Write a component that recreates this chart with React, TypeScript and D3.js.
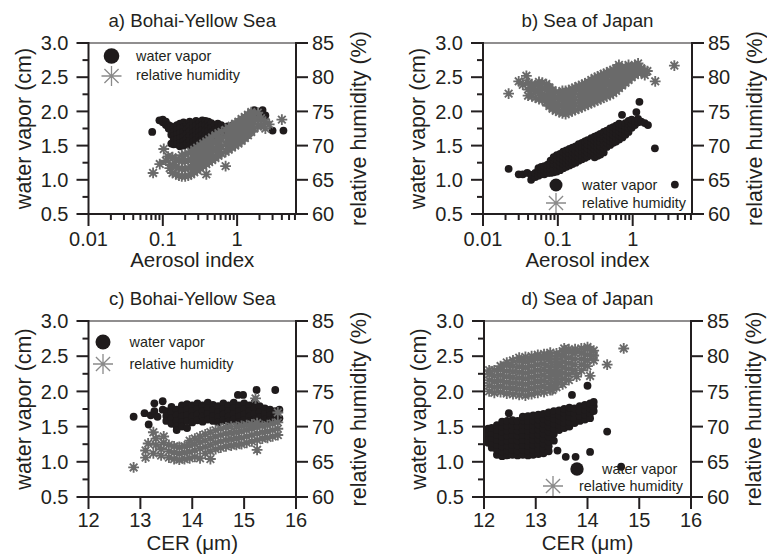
import React from 'react';
import * as d3 from 'd3';

type Pt = [number, number];

// ---------- Panel a: Bohai-Yellow Sea, Aerosol index ----------
const aWV: Pt[] = [
  [0.072,1.70],[0.09,1.87],[0.10,1.88],[0.10,1.84],[0.11,1.85],[0.11,1.80],[0.12,1.80],[0.12,1.75],
  [0.13,1.78],[0.13,1.72],[0.13,1.66],[0.13,1.53],
  [0.14,1.76],[0.14,1.70],[0.14,1.64],[0.14,1.58],[0.14,1.52],
  [0.155,1.80],[0.155,1.73],[0.155,1.66],[0.155,1.59],[0.155,1.52],
  [0.17,1.82],[0.17,1.75],[0.17,1.68],[0.17,1.61],[0.17,1.54],[0.17,1.49],
  [0.19,1.84],[0.19,1.77],[0.19,1.70],[0.19,1.63],[0.19,1.56],[0.19,1.50],
  [0.21,1.81],[0.21,1.74],[0.21,1.67],[0.21,1.60],[0.21,1.53],
  [0.23,1.85],[0.23,1.78],[0.23,1.71],[0.23,1.64],[0.23,1.57],[0.23,1.50],
  [0.255,1.83],[0.255,1.76],[0.255,1.69],[0.255,1.62],[0.255,1.55],
  [0.28,1.86],[0.28,1.79],[0.28,1.72],[0.28,1.65],[0.28,1.58],[0.28,1.52],
  [0.31,1.84],[0.31,1.77],[0.31,1.70],[0.31,1.63],[0.31,1.56],
  [0.34,1.87],[0.34,1.80],[0.34,1.73],[0.34,1.66],[0.34,1.59],
  [0.375,1.86],[0.375,1.79],[0.375,1.72],[0.375,1.65],[0.375,1.58],
  [0.41,1.85],[0.41,1.78],[0.41,1.71],[0.41,1.64],
  [0.45,1.83],[0.45,1.76],[0.45,1.69],[0.45,1.62],
  [0.50,1.80],[0.50,1.73],[0.50,1.66],
  [0.55,1.82],[0.55,1.75],[0.55,1.69],
  [0.61,1.80],[0.61,1.73],[0.67,1.76],[0.67,1.70],[0.74,1.78],[0.74,1.72],[0.82,1.75],
  [0.9,1.81],[0.9,1.74],[1.0,1.79],[1.0,1.73],[1.1,1.82],[1.22,1.84],[1.22,1.78],
  [1.35,1.86],[1.35,1.80],[1.5,1.84],
  [1.7,2.02],[1.7,1.93],[2.2,2.02],[2.4,1.94],[3.0,1.72],[4.2,1.72],
];

const aRH: Pt[] = [
  [0.074,66.0],[0.091,67.3],[0.103,69.5],[0.11,67.8],[0.118,68.4],[0.124,66.7],
  [0.135,66.0],[0.135,67.2],[0.135,68.3],
  [0.15,65.8],[0.15,66.9],[0.15,68.0],
  [0.165,65.6],[0.165,66.7],[0.165,67.8],
  [0.18,65.5],[0.18,66.6],[0.18,67.7],[0.18,68.6],
  [0.20,65.5],[0.20,66.6],[0.20,67.7],[0.20,68.7],
  [0.22,65.6],[0.22,66.7],[0.22,67.8],[0.22,68.9],
  [0.24,65.8],[0.24,66.9],[0.24,68.0],[0.24,69.1],
  [0.265,66.1],[0.265,67.2],[0.265,68.3],[0.265,69.4],
  [0.29,66.4],[0.29,67.5],[0.29,68.6],[0.29,69.7],
  [0.32,66.7],[0.32,67.8],[0.32,68.9],[0.32,70.0],
  [0.35,67.0],[0.35,68.1],[0.35,69.2],[0.35,70.3],
  [0.385,65.8],[0.385,67.3],[0.385,68.4],[0.385,69.5],[0.385,70.6],
  [0.42,67.6],[0.42,68.7],[0.42,69.8],[0.42,70.9],
  [0.46,67.9],[0.46,69.0],[0.46,70.1],[0.46,71.2],
  [0.51,68.2],[0.51,69.3],[0.51,70.4],[0.51,71.5],
  [0.56,68.5],[0.56,69.6],[0.56,70.7],[0.56,71.8],
  [0.62,68.8],[0.62,69.9],[0.62,71.0],[0.62,72.0],
  [0.70,67.0],[0.70,69.1],[0.70,70.2],[0.70,71.3],[0.70,72.3],
  [0.77,69.4],[0.77,70.5],[0.77,71.6],[0.77,72.6],
  [0.85,69.7],[0.85,70.8],[0.85,71.9],[0.85,72.9],
  [0.94,70.0],[0.94,71.1],[0.94,72.2],[0.94,73.2],
  [1.04,70.3],[1.04,71.4],[1.04,72.5],[1.04,73.5],
  [1.15,70.7],[1.15,71.8],[1.15,72.9],[1.15,73.9],
  [1.27,71.1],[1.27,72.2],[1.27,73.3],[1.27,74.2],
  [1.4,71.5],[1.4,72.6],[1.4,73.7],[1.4,74.5],
  [1.55,72.0],[1.55,73.1],[1.55,74.1],[1.55,74.9],
  [1.7,72.5],[1.7,73.5],[1.7,74.5],
  [1.9,72.8],[1.9,73.9],[1.9,74.8],
  [2.1,73.0],[2.1,74.0],[2.4,73.5],[2.4,72.5],[2.7,73.1],[4.0,73.8],
];

// ---------- Panel b: Sea of Japan, Aerosol index ----------
const bWV: Pt[] = [
  [0.022,1.16],[0.030,1.08],[0.034,1.08],[0.039,1.10],[0.044,1.00],[0.044,1.07],
  [0.05,1.04],[0.05,1.10],
  [0.055,1.06],[0.055,1.12],[0.055,1.17],
  [0.06,1.08],[0.06,1.14],[0.06,1.19],
  [0.066,1.08],[0.066,1.14],[0.066,1.20],
  [0.073,1.10],[0.073,1.16],[0.073,1.22],
  [0.08,1.10],[0.08,1.16],[0.08,1.22],[0.08,1.28],
  [0.088,1.11],[0.088,1.17],[0.088,1.23],[0.088,1.29],[0.088,1.33],
  [0.097,1.12],[0.097,1.18],[0.097,1.24],[0.097,1.30],[0.097,1.36],
  [0.107,1.14],[0.107,1.20],[0.107,1.26],[0.107,1.32],[0.107,1.38],
  [0.118,1.17],[0.118,1.23],[0.118,1.29],[0.118,1.35],[0.118,1.41],
  [0.13,1.19],[0.13,1.25],[0.13,1.31],[0.13,1.37],[0.13,1.43],
  [0.143,1.21],[0.143,1.27],[0.143,1.33],[0.143,1.39],[0.143,1.45],
  [0.157,1.23],[0.157,1.29],[0.157,1.35],[0.157,1.41],[0.157,1.47],
  [0.173,1.25],[0.173,1.31],[0.173,1.37],[0.173,1.43],[0.173,1.49],
  [0.19,1.28],[0.19,1.34],[0.19,1.40],[0.19,1.46],[0.19,1.52],
  [0.21,1.30],[0.21,1.36],[0.21,1.42],[0.21,1.48],[0.21,1.54],
  [0.23,1.32],[0.23,1.38],[0.23,1.44],[0.23,1.50],[0.23,1.56],
  [0.25,1.34],[0.25,1.40],[0.25,1.46],[0.25,1.52],[0.25,1.58],
  [0.28,1.37],[0.28,1.43],[0.28,1.49],[0.28,1.55],[0.28,1.61],
  [0.31,1.33],[0.31,1.39],[0.31,1.45],[0.31,1.51],[0.31,1.57],[0.31,1.63],
  [0.34,1.35],[0.34,1.41],[0.34,1.47],[0.34,1.53],[0.34,1.59],[0.34,1.65],
  [0.37,1.37],[0.37,1.43],[0.37,1.49],[0.37,1.55],[0.37,1.61],[0.37,1.67],
  [0.41,1.40],[0.41,1.46],[0.41,1.52],[0.41,1.58],[0.41,1.64],[0.41,1.70],
  [0.45,1.48],[0.45,1.54],[0.45,1.60],[0.45,1.66],[0.45,1.72],
  [0.5,1.51],[0.5,1.57],[0.5,1.63],[0.5,1.69],[0.5,1.75],
  [0.55,1.54],[0.55,1.60],[0.55,1.66],[0.55,1.72],[0.55,1.77],
  [0.6,1.56],[0.6,1.62],[0.6,1.68],[0.6,1.74],[0.6,1.79],
  [0.66,1.59],[0.66,1.65],[0.66,1.71],[0.66,1.77],[0.66,1.82],
  [0.72,1.95],
  [0.73,1.62],[0.73,1.68],[0.73,1.74],[0.73,1.80],
  [0.8,1.66],[0.8,1.72],[0.8,1.78],[0.8,1.83],
  [0.88,1.70],[0.88,1.76],[0.88,1.82],[0.88,1.86],
  [0.97,1.76],[0.97,1.82],[0.97,1.88],
  [1.07,1.80],[1.07,1.86],
  [1.12,1.99],[1.18,1.84],[1.18,1.89],[1.23,2.14],[1.3,1.85],[1.45,1.83],[1.6,1.80],
  [1.98,1.46],[3.66,0.93],
];

const bRH: Pt[] = [
  [0.022,77.6],[0.030,79.4],[0.034,78.9],[0.038,80.2],
  [0.04,77.3],[0.04,78.2],[0.04,79.1],
  [0.045,77.2],[0.045,78.1],[0.045,79.0],
  [0.05,77.0],[0.05,77.9],[0.05,78.8],
  [0.056,76.8],[0.056,77.7],[0.056,78.6],[0.056,79.3],
  [0.062,76.7],[0.062,77.6],[0.062,78.5],[0.062,79.2],
  [0.07,76.3],[0.07,77.2],[0.07,78.1],[0.07,79.0],
  [0.077,75.8],[0.077,76.7],[0.077,77.6],[0.077,78.5],
  [0.085,75.4],[0.085,76.3],[0.085,77.2],[0.085,78.1],
  [0.094,75.1],[0.094,76.0],[0.094,76.9],[0.094,77.8],
  [0.104,74.9],[0.104,75.8],[0.104,76.7],[0.104,77.6],
  [0.115,74.7],[0.115,75.6],[0.115,76.5],[0.115,77.4],[0.115,78.0],
  [0.127,74.6],[0.127,75.5],[0.127,76.4],[0.127,77.3],[0.127,78.0],
  [0.14,74.8],[0.14,75.7],[0.14,76.6],[0.14,77.5],[0.14,78.1],
  [0.155,75.0],[0.155,75.9],[0.155,76.8],[0.155,77.7],[0.155,78.3],
  [0.17,75.2],[0.17,76.1],[0.17,77.0],[0.17,77.9],[0.17,78.5],
  [0.19,75.4],[0.19,76.3],[0.19,77.2],[0.19,78.1],[0.19,78.7],
  [0.21,75.6],[0.21,76.5],[0.21,77.4],[0.21,78.3],[0.21,78.9],
  [0.23,75.8],[0.23,76.7],[0.23,77.6],[0.23,78.5],[0.23,79.1],
  [0.255,76.0],[0.255,76.9],[0.255,77.8],[0.255,78.7],[0.255,79.3],
  [0.28,76.2],[0.28,77.1],[0.28,78.0],[0.28,78.9],[0.28,79.6],
  [0.31,76.4],[0.31,77.3],[0.31,78.2],[0.31,79.1],[0.31,79.9],
  [0.34,76.6],[0.34,77.5],[0.34,78.4],[0.34,79.3],[0.34,80.1],
  [0.375,76.8],[0.375,77.7],[0.375,78.6],[0.375,79.5],[0.375,80.3],
  [0.41,77.0],[0.41,77.9],[0.41,78.8],[0.41,79.7],[0.41,80.5],
  [0.45,77.2],[0.45,78.1],[0.45,79.0],[0.45,79.9],[0.45,80.7],
  [0.5,77.4],[0.5,78.3],[0.5,79.2],[0.5,80.1],[0.5,80.9],
  [0.55,77.7],[0.55,78.6],[0.55,79.5],[0.55,80.4],[0.55,81.1],
  [0.6,78.0],[0.6,78.9],[0.6,79.8],[0.6,80.7],[0.6,81.3],
  [0.655,78.4],[0.655,79.3],[0.655,80.2],[0.655,81.0],[0.655,81.8],
  [0.72,78.8],[0.72,79.7],[0.72,80.6],[0.72,81.3],
  [0.8,79.2],[0.8,80.1],[0.8,81.0],[0.8,81.5],
  [0.88,79.6],[0.88,80.5],[0.88,81.3],[0.88,81.8],
  [0.97,80.0],[0.97,80.8],[0.97,81.5],
  [1.07,80.3],[1.07,81.1],[1.07,81.8],
  [1.18,80.6],[1.18,81.4],[1.18,82.0],
  [1.3,80.7],[1.3,81.3],[1.45,80.3],[1.45,81.0],[1.57,80.9],[2.0,79.4],[3.6,81.7],
];

// ---------- Panel c: Bohai-Yellow Sea, CER ----------
const cWV: Pt[] = [
  [12.87,1.64],[13.08,1.69],[13.16,1.53],[13.2,1.66],[13.27,1.83],[13.27,1.72],[13.33,1.64],
  [13.43,1.86],[13.43,1.74],
  [13.5,1.72],[13.5,1.65],[13.5,1.58],
  [13.6,1.78],[13.6,1.70],[13.6,1.62],[13.6,1.54],
  [13.7,1.74],[13.7,1.66],[13.7,1.58],[13.7,1.50],[13.7,1.45],
  [13.8,1.80],[13.8,1.72],[13.8,1.64],[13.8,1.56],[13.8,1.50],
  [13.9,1.82],[13.9,1.74],[13.9,1.66],[13.9,1.58],[13.9,1.48],
  [14.0,1.80],[14.0,1.72],[14.0,1.64],[14.0,1.56],
  [14.1,1.83],[14.1,1.75],[14.1,1.67],[14.1,1.59],
  [14.2,1.80],[14.2,1.72],[14.2,1.64],[14.2,1.57],
  [14.3,1.84],[14.3,1.76],[14.3,1.68],[14.3,1.60],
  [14.4,1.81],[14.4,1.73],[14.4,1.65],[14.4,1.58],
  [14.5,1.79],[14.5,1.71],[14.5,1.63],[14.5,1.56],
  [14.6,1.83],[14.6,1.75],[14.6,1.67],[14.6,1.59],
  [14.7,1.80],[14.7,1.72],[14.7,1.64],[14.7,1.57],
  [14.8,1.84],[14.8,1.76],[14.8,1.68],[14.8,1.60],
  [14.88,1.95],
  [14.9,1.80],[14.9,1.72],[14.9,1.64],[14.9,1.56],
  [14.98,1.95],
  [15.0,1.83],[15.0,1.75],[15.0,1.67],[15.0,1.59],
  [15.1,1.80],[15.1,1.72],[15.1,1.64],[15.1,1.57],
  [15.2,1.84],[15.2,1.76],[15.2,1.68],[15.2,1.60],
  [15.24,2.02],
  [15.3,1.79],[15.3,1.71],[15.3,1.63],[15.3,1.57],
  [15.4,1.76],[15.4,1.68],[15.4,1.60],
  [15.5,1.74],[15.5,1.66],[15.5,1.59],
  [15.6,2.02],[15.6,1.72],[15.6,1.64],
  [15.68,1.74],[15.68,1.62],
];

const cRH: Pt[] = [
  [12.87,64.2],[13.1,65.6],[13.1,66.6],[13.15,67.6],[13.25,69.2],[13.25,66.2],
  [13.3,67.4],[13.3,68.3],[13.4,65.9],[13.4,66.8],[13.45,67.7],[13.45,68.6],
  [13.55,65.6],[13.55,66.5],[13.55,67.4],
  [13.65,65.4],[13.65,66.3],[13.65,67.2],
  [13.75,65.3],[13.75,66.2],[13.75,67.1],
  [13.85,65.4],[13.85,66.3],[13.85,67.2],
  [13.95,65.5],[13.95,66.4],[13.95,67.3],[13.95,68.0],
  [14.05,65.7],[14.05,66.6],[14.05,67.5],[14.05,68.3],
  [14.15,65.5],[14.15,66.9],[14.15,67.8],[14.15,68.6],
  [14.25,66.2],[14.25,67.1],[14.25,68.0],[14.25,68.9],
  [14.35,65.4],[14.35,66.5],[14.35,67.4],[14.35,68.3],[14.35,69.2],
  [14.45,66.8],[14.45,67.7],[14.45,68.6],[14.45,69.5],
  [14.55,67.0],[14.55,67.9],[14.55,68.8],[14.55,69.7],
  [14.65,67.2],[14.65,68.1],[14.65,69.0],[14.65,69.9],
  [14.75,67.3],[14.75,68.2],[14.75,69.1],[14.75,70.0],
  [14.85,67.4],[14.85,68.3],[14.85,69.2],[14.85,70.0],
  [14.95,67.5],[14.95,68.4],[14.95,69.3],[14.95,70.1],
  [15.05,67.7],[15.05,68.6],[15.05,69.5],[15.05,70.2],
  [15.15,67.9],[15.15,68.8],[15.15,69.7],[15.15,70.3],
  [15.22,74.0],
  [15.25,66.7],[15.25,68.1],[15.25,69.0],[15.25,69.9],[15.25,70.5],
  [15.35,68.3],[15.35,69.2],[15.35,70.1],
  [15.45,68.4],[15.45,69.3],[15.45,70.2],
  [15.55,68.6],[15.55,69.5],[15.55,70.4],
  [15.65,68.8],[15.65,69.7],[15.65,70.6],[15.65,72.0],
];

// ---------- Panel d: Sea of Japan, CER ----------
const dWV: Pt[] = [
  [12.08,1.27],[12.08,1.34],[12.08,1.41],[12.08,1.47],
  [12.15,1.20],[12.15,1.27],[12.15,1.34],[12.15,1.41],[12.15,1.48],
  [12.25,1.10],[12.25,1.17],[12.25,1.24],[12.25,1.31],[12.25,1.38],[12.25,1.45],[12.25,1.52],
  [12.35,1.08],[12.35,1.15],[12.35,1.22],[12.35,1.29],[12.35,1.36],[12.35,1.43],[12.35,1.50],[12.35,1.57],
  [12.45,1.09],[12.45,1.16],[12.45,1.23],[12.45,1.30],[12.45,1.37],[12.45,1.44],[12.45,1.51],[12.45,1.58],[12.48,1.69],
  [12.55,1.10],[12.55,1.17],[12.55,1.24],[12.55,1.31],[12.55,1.38],[12.55,1.45],[12.55,1.52],[12.55,1.59],
  [12.65,1.09],[12.65,1.16],[12.65,1.23],[12.65,1.30],[12.65,1.37],[12.65,1.44],[12.65,1.51],[12.65,1.58],
  [12.75,1.10],[12.75,1.17],[12.75,1.24],[12.75,1.31],[12.75,1.38],[12.75,1.45],[12.75,1.52],[12.75,1.59],[12.75,1.64],
  [12.85,1.09],[12.85,1.16],[12.85,1.23],[12.85,1.30],[12.85,1.37],[12.85,1.44],[12.85,1.51],[12.85,1.58],[12.85,1.65],
  [12.95,1.10],[12.95,1.17],[12.95,1.24],[12.95,1.31],[12.95,1.38],[12.95,1.45],[12.95,1.52],[12.95,1.59],[12.95,1.66],
  [13.05,1.11],[13.05,1.18],[13.05,1.25],[13.05,1.32],[13.05,1.39],[13.05,1.46],[13.05,1.53],[13.05,1.60],[13.05,1.67],
  [13.15,1.12],[13.15,1.19],[13.15,1.26],[13.15,1.33],[13.15,1.40],[13.15,1.47],[13.15,1.54],[13.15,1.61],[13.15,1.68],
  [13.25,1.15],[13.25,1.22],[13.25,1.29],[13.25,1.36],[13.25,1.43],[13.25,1.50],[13.25,1.57],[13.25,1.64],[13.25,1.70],
  [13.35,1.30],[13.35,1.40],[13.35,1.47],[13.35,1.54],[13.35,1.61],[13.35,1.68],[13.35,1.72],
  [13.42,1.16],
  [13.45,1.45],[13.45,1.52],[13.45,1.59],[13.45,1.66],[13.45,1.73],
  [13.55,1.48],[13.55,1.55],[13.55,1.62],[13.55,1.69],[13.55,1.75],
  [13.58,1.07],
  [13.65,1.50],[13.65,1.57],[13.65,1.64],[13.65,1.71],[13.65,1.77],
  [13.7,1.95],
  [13.75,1.55],[13.75,1.62],[13.75,1.69],[13.75,1.76],
  [13.77,1.07],
  [13.85,1.58],[13.85,1.65],[13.85,1.72],[13.85,1.79],
  [13.95,1.60],[13.95,1.67],[13.95,1.74],[13.95,1.81],
  [14.0,2.08],
  [14.05,1.62],[14.05,1.69],[14.05,1.76],[14.05,1.83],[14.05,1.14],
  [14.12,1.72],[14.12,1.79],[14.12,1.85],
  [14.38,1.43],[14.65,0.93],
];

const dRH: Pt[] = [
  [12.1,75.0],[12.1,75.8],[12.1,76.6],[12.1,77.4],[12.1,78.0],
  [12.2,74.8],[12.2,75.6],[12.2,76.4],[12.2,77.2],[12.2,78.0],
  [12.32,74.9],[12.32,75.7],[12.32,76.5],[12.32,77.3],[12.32,78.1],[12.32,78.6],
  [12.44,74.7],[12.44,75.5],[12.44,76.3],[12.44,77.1],[12.44,77.9],[12.44,78.7],[12.44,79.1],
  [12.56,74.6],[12.56,75.4],[12.56,76.2],[12.56,77.0],[12.56,77.8],[12.56,78.6],[12.56,79.4],
  [12.68,74.5],[12.68,75.3],[12.68,76.1],[12.68,76.9],[12.68,77.7],[12.68,78.5],[12.68,79.3],[12.68,79.8],
  [12.8,74.4],[12.8,75.2],[12.8,76.0],[12.8,76.8],[12.8,77.6],[12.8,78.4],[12.8,79.2],[12.8,79.9],
  [12.92,74.6],[12.92,75.4],[12.92,76.2],[12.92,77.0],[12.92,77.8],[12.92,78.6],[12.92,79.4],[12.92,80.0],
  [13.04,74.8],[13.04,75.6],[13.04,76.4],[13.04,77.2],[13.04,78.0],[13.04,78.8],[13.04,79.6],[13.04,80.2],
  [13.16,74.9],[13.16,75.7],[13.16,76.5],[13.16,77.3],[13.16,78.1],[13.16,78.9],[13.16,79.7],[13.16,80.3],
  [13.28,75.2],[13.28,76.0],[13.28,76.8],[13.28,77.6],[13.28,78.4],[13.28,79.2],[13.28,80.0],[13.28,80.5],
  [13.32,75.2],
  [13.4,75.6],[13.4,76.4],[13.4,77.2],[13.4,78.0],[13.4,78.8],[13.4,79.6],[13.4,80.4],
  [13.52,76.0],[13.52,76.8],[13.52,77.6],[13.52,78.4],[13.52,79.2],[13.52,80.0],[13.52,80.7],[13.55,81.1],
  [13.64,76.6],[13.64,77.4],[13.64,78.2],[13.64,79.0],[13.64,79.8],[13.64,80.6],[13.64,81.0],
  [13.76,78.0],[13.76,78.8],[13.76,79.6],[13.76,80.4],[13.76,81.0],[13.79,77.1],
  [13.88,78.0],[13.88,78.8],[13.88,79.6],[13.88,80.4],[13.88,81.1],
  [14.0,78.6],[14.0,79.4],[14.0,80.2],[14.0,81.0],[14.0,81.3],[14.05,77.2],
  [14.12,79.4],[14.12,80.1],[14.12,80.8],
  [14.38,78.8],[14.7,81.1],
];

// ---------- axis tick values ----------
const wvMajor = [0.5, 1.0, 1.5, 2.0, 2.5, 3.0];
const wvMinor = [0.75, 1.25, 1.75, 2.25, 2.75];
const rhMajor = [60, 65, 70, 75, 80, 85];
const aiDomain = [0.01, 6.2];
const aiLabels = ['0.01', '0.1', '1'];
const cerDomain = [12, 16];
const cerMajor = [12, 13, 14, 15, 16];

const FONT = '"Liberation Sans", Arial, Helvetica, sans-serif';
const INK = '#231f20';
const DOT = '#1f1b1c';
const GRAY = '#6a6a6a';
const LEG_GRAY = '#8a8a8a';

function starPath(cx: number, cy: number, s: number) {
  const d = s * 0.7071;
  return `M${cx - s},${cy}H${cx + s}M${cx},${cy - s}V${cy + s}` +
    `M${cx - d},${cy - d}L${cx + d},${cy + d}M${cx - d},${cy + d}L${cx + d},${cy - d}`;
}

type Legend = {
  cx: number; cy: number; r: number; tx: number; ty: number;
  sx: number; sy: number; stx: number; sty: number;
};

type Cfg = {
  l: number; r: number; t: number; b: number;
  log: boolean; title: string; xTitle: string;
  tickDy: number; titleDy: number;
  wv: Pt[]; rh: Pt[]; legend: Legend;
};

function Panel({ cfg }: { cfg: Cfg }) {
  const { l, r, t, b } = cfg;
  const x: any = cfg.log
    ? d3.scaleLog().domain(aiDomain).range([l, r])
    : d3.scaleLinear().domain(cerDomain).range([l, r]);
  const yL = d3.scaleLinear().domain([0.5, 3.0]).range([b, t]);
  const yR = d3.scaleLinear().domain([60, 85]).range([b, t]);

  const xTicks: { v: number; major: boolean; label?: string }[] = [];
  if (cfg.log) {
    (x.ticks() as number[]).forEach((v) => {
      const lg = Math.log10(v);
      const major = Math.abs(lg - Math.round(lg)) < 1e-6;
      xTicks.push({ v, major, label: major ? aiLabels[Math.round(lg) + 2] : undefined });
    });
  } else {
    cerMajor.forEach((v) => xTicks.push({ v, major: true, label: String(v) }));
  }

  const starD = cfg.rh.map(([a, v]) => starPath(x(a), yR(v), 5.4)).join('');
  const lg = cfg.legend;
  const midY = (t + b) / 2;

  return (
    <g>
      <text x={(l + r) / 2} y={t - 16} textAnchor="middle" fontSize={18.7} fontFamily={FONT} fill={INK}>
        {cfg.title}
      </text>
      {/* data */}
      <g fill={DOT}>
        {cfg.wv.map(([a, v], i) => (
          <circle key={i} cx={x(a)} cy={yL(v)} r={3.9} />
        ))}
      </g>
      <path d={starD} stroke={GRAY} strokeWidth={1.85} fill="none" />
      {/* frame */}
      <line x1={l} x2={r} y1={t} y2={t} stroke={INK} strokeWidth={1.2} />
      <line x1={l} x2={l} y1={t - 1} y2={b + 1} stroke={INK} strokeWidth={2} />
      <line x1={r} x2={r} y1={t - 1} y2={b + 1} stroke={INK} strokeWidth={2} />
      <line x1={l - 1} x2={r + 1} y1={b} y2={b} stroke={INK} strokeWidth={2} />
      {/* left ticks */}
      {wvMajor.map((v) => (
        <g key={'lm' + v}>
          <line x1={l - 12} x2={l} y1={yL(v)} y2={yL(v)} stroke={INK} strokeWidth={2} />
          <text x={l - 20} y={yL(v)} dy="0.36em" textAnchor="end" fontSize={20} fontFamily={FONT} fill={INK}>
            {v.toFixed(1)}
          </text>
        </g>
      ))}
      {wvMinor.map((v) => (
        <line key={'ln' + v} x1={l - 6} x2={l} y1={yL(v)} y2={yL(v)} stroke={INK} strokeWidth={2} />
      ))}
      {/* right ticks */}
      {rhMajor.map((v) => (
        <g key={'rm' + v}>
          <line x1={r} x2={r + 12} y1={yR(v)} y2={yR(v)} stroke={INK} strokeWidth={2} />
          <text x={r + 16} y={yR(v)} dy="0.36em" textAnchor="start" fontSize={20} fontFamily={FONT} fill={INK}>
            {v}
          </text>
        </g>
      ))}
      {/* bottom ticks */}
      {xTicks.map((tk, i) => (
        <g key={'x' + i}>
          <line x1={x(tk.v)} x2={x(tk.v)} y1={b} y2={b + (tk.major ? 12 : 6)} stroke={INK} strokeWidth={2} />
          {tk.label && (
            <text x={x(tk.v)} y={b + cfg.tickDy} textAnchor="middle" fontSize={20} fontFamily={FONT} fill={INK}>
              {tk.label}
            </text>
          )}
        </g>
      ))}
      <text x={(l + r) / 2} y={b + cfg.titleDy} textAnchor="middle" fontSize={20.5} fontFamily={FONT} fill={INK}>
        {cfg.xTitle}
      </text>
      <text transform={`translate(${l - 58},${midY}) rotate(-90)`} textAnchor="middle" fontSize={21.5} fontFamily={FONT} fill={INK}>
        water vapor (cm)
      </text>
      <text transform={`translate(${r + 70},${midY}) rotate(-90)`} textAnchor="middle" fontSize={21.5} fontFamily={FONT} fill={INK}>
        relative humidity (%)
      </text>
      {/* legend */}
      <circle cx={lg.cx} cy={lg.cy} r={lg.r} fill={DOT} />
      <text x={lg.tx} y={lg.ty} fontSize={14.4} fontFamily={FONT} fill={INK}>water vapor</text>
      <path d={starPath(lg.sx, lg.sy, 10)} stroke={LEG_GRAY} strokeWidth={1.3} fill="none" />
      <text x={lg.stx} y={lg.sty} fontSize={14.4} fontFamily={FONT} fill={INK}>relative humidity</text>
    </g>
  );
}

const panels: Cfg[] = [
  {
    l: 88.5, r: 296, t: 43, b: 214, log: true, title: 'a) Bohai-Yellow Sea', xTitle: 'Aerosol index',
    tickDy: 32, titleDy: 53, wv: aWV, rh: aRH,
    legend: { cx: 111.5, cy: 56, r: 7.8, tx: 136, ty: 60.5, sx: 111.5, sy: 76, stx: 136, sty: 80 },
  },
  {
    l: 483, r: 692, t: 43, b: 214, log: true, title: 'b) Sea of Japan', xTitle: 'Aerosol index',
    tickDy: 32, titleDy: 53, wv: bWV, rh: bRH,
    legend: { cx: 556, cy: 185, r: 6.5, tx: 582, ty: 190, sx: 556, sy: 203, stx: 582, sty: 207.5 },
  },
  {
    l: 88.5, r: 296, t: 321, b: 497, log: false, title: 'c) Bohai-Yellow Sea', xTitle: 'CER (\u03bcm)',
    tickDy: 30, titleDy: 53, wv: cWV, rh: cRH,
    legend: { cx: 103, cy: 342, r: 7.5, tx: 129.5, ty: 346.5, sx: 103, sy: 364, stx: 129.5, sty: 368.5 },
  },
  {
    l: 484, r: 691, t: 321, b: 497, log: false, title: 'd) Sea of Japan', xTitle: 'CER (\u03bcm)',
    tickDy: 30, titleDy: 53, wv: dWV, rh: dRH,
    legend: { cx: 577, cy: 469, r: 6.7, tx: 602, ty: 473.5, sx: 553, sy: 486, stx: 579, sty: 490.5 },
  },
];

export default function App() {
  return (
    <svg
      width={767}
      height={554}
      viewBox="0 0 767 554"
      style={{ position: 'absolute', left: 0, top: 0, background: '#fff' }}
    >
      <rect width={767} height={554} fill="#fff" />
      {panels.map((p, i) => (
        <Panel key={i} cfg={p} />
      ))}
    </svg>
  );
}
